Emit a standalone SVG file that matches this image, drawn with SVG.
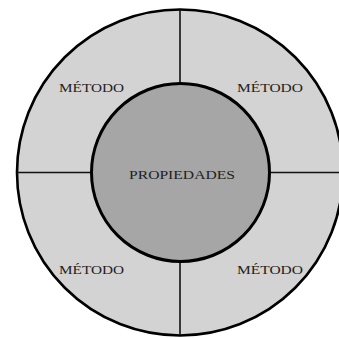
<svg xmlns="http://www.w3.org/2000/svg" width="339" height="338" viewBox="0 0 339 338">
<style>
.lbl{font-family:"Liberation Serif","DejaVu Serif",serif;font-size:13.5px;fill:#222;text-anchor:middle}
.div{stroke:#111;stroke-width:1.6}
</style>
<rect width="339" height="338" fill="#fff"/>
<g id="outer">
<circle cx="180" cy="172.5" r="163" fill="#d3d3d3" stroke="#000" stroke-width="2.6"/>
</g>
<g id="connectors">
<line class="div" x1="180" y1="10" x2="180" y2="84"/>
<line class="div" x1="180" y1="261" x2="180" y2="335"/>
<line class="div" x1="17" y1="172.5" x2="91" y2="172.5"/>
<line class="div" x1="269" y1="172.5" x2="343" y2="172.5"/>
</g>
<g id="inner">
<circle cx="180.5" cy="172.5" r="89" fill="#a6a6a6" stroke="#000" stroke-width="3"/>
<text class="lbl" x="182" y="179" textLength="106" lengthAdjust="spacingAndGlyphs">PROPIEDADES</text>
</g>
<g id="m1"><text class="lbl" x="91.5" y="92" textLength="65" lengthAdjust="spacingAndGlyphs">MÉTODO</text></g>
<g id="m2"><text class="lbl" x="270" y="92" textLength="66" lengthAdjust="spacingAndGlyphs">MÉTODO</text></g>
<g id="m3"><text class="lbl" x="91.5" y="274" textLength="65" lengthAdjust="spacingAndGlyphs">MÉTODO</text></g>
<g id="m4"><text class="lbl" x="270" y="274" textLength="66" lengthAdjust="spacingAndGlyphs">MÉTODO</text></g>
</svg>
